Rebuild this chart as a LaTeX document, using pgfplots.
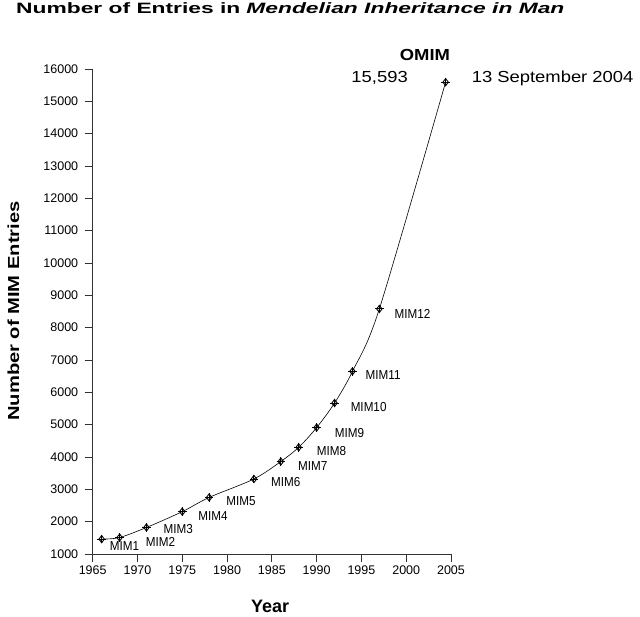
\documentclass[border=0pt]{standalone}
\usepackage{fontspec}
\setmainfont{Liberation Sans}
\newfontfamily\titlefont{Liberation Sans}[FakeStretch=1.52]
\newfontfamily\ylabfont{Liberation Sans}[FakeStretch=1.26]
\newfontfamily\widefont{Liberation Sans}[FakeStretch=1.15]
\newfontfamily\mimfont{Liberation Sans}[FakeStretch=0.9]
\usepackage{pgfplots}
\usepackage{pgfplotstable}
\pgfplotsset{compat=1.18}

% year, entries, edition label, label offset (pt)
\pgfplotstableread{
year   entries label dx dy
1966   1460    MIM1  8  -7
1968   1510    MIM2  26 -4
1971   1820    MIM3  17 -2
1975   2310    MIM4  16 -4
1978   2750    MIM5  17 -4
1983   3320    MIM6  17 -3
1986   3860    MIM7  17 -4
1988   4300    MIM8  18 -4
1990   4910    MIM9  18 -5
1992   5670    MIM10 16 -4
1994   6650    MIM11 13 -4
1997   8580    MIM12 15 -5
2004.4 15593   {}    0  0
}\mimdata

\begin{document}
\begin{tikzpicture}[x=1pt,y=1pt]
\useasboundingbox (0,0) rectangle (640,-617);
\begin{axis}[
  at={(92.7pt,-554pt)}, anchor=south west,
  scale only axis, width=358.3pt, height=485pt,
  xmin=1965, xmax=2005, ymin=1000, ymax=16000,
  xtick distance=5, ytick distance=1000,
  scaled y ticks=false,
  axis lines=left,
  axis line style={-, line width=0.9pt, black!80},
  tick align=outside, major tick length=8pt,
  tick style={black!80, line width=0.9pt},
  /pgf/number format/1000 sep={},
  /pgf/number format/assume math mode=true,
  ticklabel style={font=\fontsize{12.5}{13}\selectfont},
  yticklabel style={xshift=-3pt},
  xlabel={\bfseries\fontsize{18}{18}\selectfont Year},
  xlabel style={at={(0.495,-0.1072)}, anchor=center, inner sep=0pt},
  ylabel={\ylabfont\bfseries\fontsize{16}{16}\selectfont Number of MIM Entries},
  ylabel style={at={(-0.221,0.501)}, anchor=center, inner sep=0pt},
  clip=false,
]
\addplot[black, line width=0.6pt, smooth, tension=0.5] table[x=year, y=entries] {\mimdata};
\addplot[only marks, mark=diamond, mark size=3.6pt, mark options={black, line width=0.9pt}] table[x=year, y=entries] {\mimdata};
\addplot[only marks, mark=+, mark size=4.3pt, mark options={black, line width=0.9pt}] table[x=year, y=entries] {\mimdata};
\addplot[draw=none, mark=none, nodes near coords, point meta=explicit symbolic,
  visualization depends on={\thisrow{dx}\as\labdx},
  visualization depends on={\thisrow{dy}\as\labdy},
  every node near coord/.append style={anchor=west, xshift=\labdx, yshift=\labdy, inner sep=0pt,
    font=\mimfont\fontsize{13}{13}\selectfont}]
  table[x=year, y=entries, meta=label] {\mimdata};
\node[font=\widefont\bfseries\fontsize{16}{16}\selectfont, inner sep=0pt] at ([xshift=-20.7pt, yshift=27pt]axis cs:2004.4,15593) {OMIM};
\node[font=\widefont\fontsize{16}{16}\selectfont, inner sep=0pt] at ([xshift=-66pt, yshift=4pt]axis cs:2004.4,15593) {15,593};
\node[font=\widefont\fontsize{16}{16}\selectfont, inner sep=0pt, anchor=west] at ([xshift=26pt, yshift=4pt]axis cs:2004.4,15593) {13 September 2004};
\end{axis}
\node[anchor=base west, inner sep=0pt, font=\titlefont\bfseries\fontsize{15}{16}\selectfont]
  at (16,-13.5) {Number of Entries in\hspace{6pt}\itshape Mendelian Inheritance in Man};
\end{tikzpicture}
\end{document}
